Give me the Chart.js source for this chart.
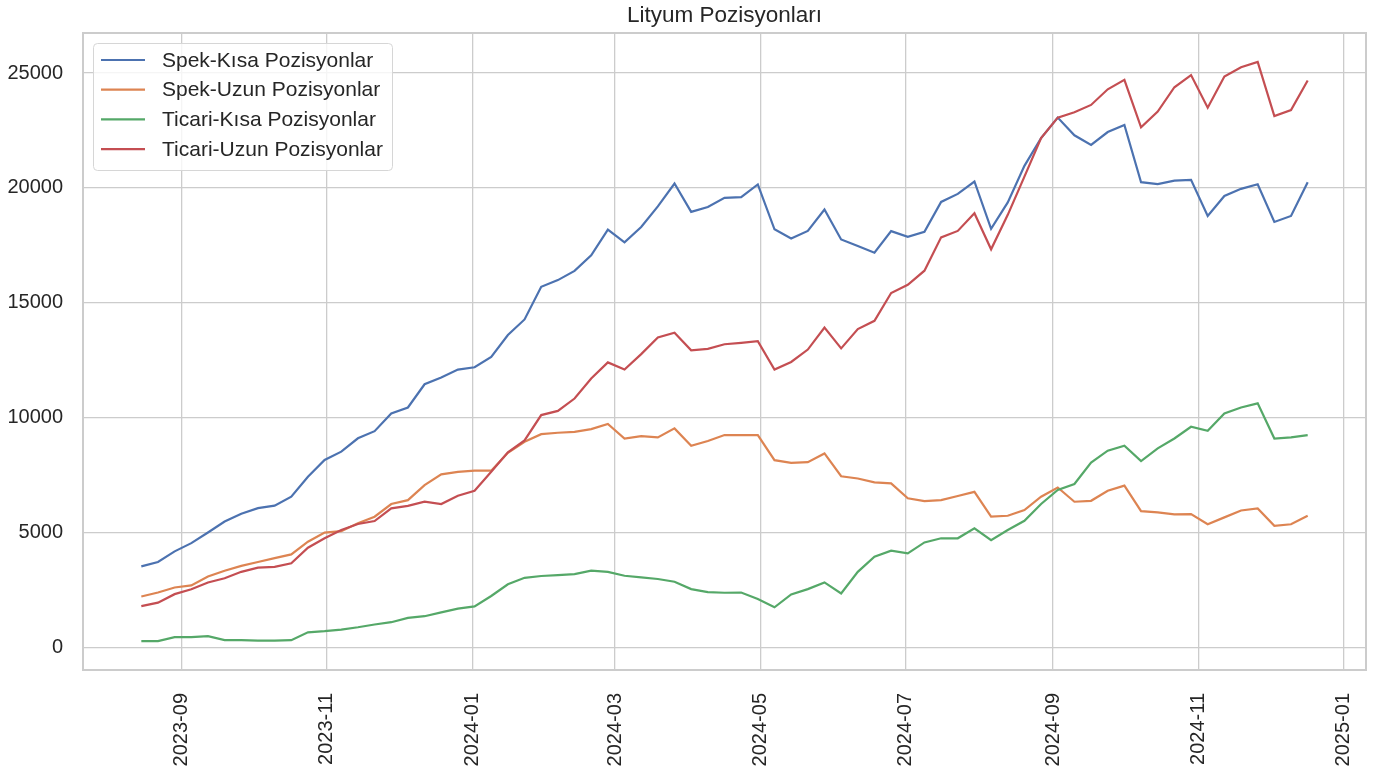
<!DOCTYPE html>
<html>
<head>
<meta charset="utf-8">
<script src="https://cdn.jsdelivr.net/npm/chart.js@4.4.1/dist/chart.umd.min.js"></script>
<style>
html,body{margin:0;padding:0;background:#ffffff;}
#wrap{width:1376px;height:776px;position:relative;}
</style>
</head>
<body>
<div id="wrap"><canvas id="c" width="1376" height="776"></canvas></div>
<script>
// ---- data (weekly report dates) ----
const dates = [
  '2023-08-15','2023-08-22','2023-08-29','2023-09-05','2023-09-12','2023-09-19','2023-09-26',
  '2023-10-03','2023-10-10','2023-10-17','2023-10-24','2023-10-31','2023-11-07','2023-11-14',
  '2023-11-21','2023-11-28','2023-12-05','2023-12-12','2023-12-19','2023-12-26','2024-01-02',
  '2024-01-09','2024-01-16','2024-01-23','2024-01-30','2024-02-06','2024-02-13','2024-02-20',
  '2024-02-27','2024-03-05','2024-03-12','2024-03-19','2024-03-26','2024-04-02','2024-04-09',
  '2024-04-16','2024-04-23','2024-04-30','2024-05-07','2024-05-14','2024-05-21','2024-05-28',
  '2024-06-04','2024-06-11','2024-06-18','2024-06-25','2024-07-02','2024-07-09','2024-07-16',
  '2024-07-23','2024-07-30','2024-08-06','2024-08-13','2024-08-20','2024-08-27','2024-09-03',
  '2024-09-10','2024-09-17','2024-09-24','2024-10-01','2024-10-08','2024-10-15','2024-10-22',
  '2024-10-29','2024-11-05','2024-11-12','2024-11-19','2024-11-26','2024-12-03','2024-12-10',
  '2024-12-17'
];
const spekKisa = [
  3540,3730,4190,4550,5010,5490,5830,6070,6180,6570,7440,8170,8530,9110,9420,10190,10450,11460,
  11750,12100,12200,12650,13600,14280,15700,15990,16390,17070,18190,17630,18300,19200,20190,18960,
  19170,19570,19600,20150,18200,17800,18130,19060,17760,17470,17180,18120,17870,18090,19390,19740,
  20280,18220,19370,20960,22170,23060,22290,21870,22430,22740,20250,20170,20320,20350,18780,19650,
  19960,20160,18520,18780,20250
];
const spekUzun = [
  2230,2400,2620,2710,3100,3350,3560,3730,3900,4060,4610,5010,5070,5410,5700,6250,6420,7070,
  7540,7650,7700,7700,8480,8960,9290,9350,9390,9510,9730,9100,9200,9150,9540,8780,8990,9250,
  9250,9250,8160,8040,8070,8450,7460,7360,7190,7150,6500,6380,6420,6600,6780,5700,5740,5990,
  6570,6970,6350,6390,6830,7050,5940,5890,5800,5810,5370,5670,5970,6060,5300,5370,5740
];
const ticariKisa = [
  290,290,460,460,500,330,330,310,310,330,670,720,790,890,1010,1110,1300,1370,1540,1700,1800,
  2250,2760,3040,3120,3160,3200,3350,3300,3130,3060,2990,2870,2550,2420,2390,2400,2120,1760,
  2320,2550,2840,2360,3300,3960,4220,4100,4580,4760,4760,5190,4680,5120,5520,6250,6860,7120,
  8050,8570,8790,8120,8670,9100,9610,9440,10190,10450,10630,9100,9150,9250
];
const ticariUzun = [
  1810,1960,2330,2540,2840,3020,3300,3480,3520,3670,4350,4760,5120,5380,5510,6060,6170,6350,
  6250,6610,6830,7650,8500,9020,10120,10300,10840,11710,12410,12100,12770,13500,13700,12940,
  13000,13200,13260,13330,12100,12430,12970,13930,13020,13860,14220,15430,15790,16400,17850,
  18130,18900,17330,18830,20490,22170,23060,23290,23610,24290,24700,22640,23320,24380,24910,
  23490,24850,25250,25480,23130,23390,24670
];
const seriesNames = ['Spek-Kısa Pozisyonlar','Spek-Uzun Pozisyonlar','Ticari-Kısa Pozisyonlar','Ticari-Uzun Pozisyonlar'];
const xTickLabels = ['2023-09','2023-11','2024-01','2024-03','2024-05','2024-07','2024-09','2024-11','2025-01'];
const yTicks = [0,5000,10000,15000,20000,25000];
const chartTitle = 'Lityum Pozisyonları';

// ---- helpers ----
const DAY = 86400000;
const toDay = s => Date.parse(s + (s.length === 7 ? '-01' : '') + 'T00:00:00Z') / DAY;
const xs = dates.map(toDay);
const xTickVals = xTickLabels.map(toDay);
const labelOf = {};
xTickLabels.forEach((l, i) => { labelOf[xTickVals[i]] = l; });

const allSeries = [spekKisa, spekUzun, ticariKisa, ticariUzun];
const colors = ['#4c72b0', '#dd8452', '#55a868', '#c44e52'];
const xmin0 = Math.min(...xs), xmax0 = Math.max(...xs);
const xpad = (xmax0 - xmin0) * 0.05;
const allY = allSeries.flat();
const ymin0 = Math.min(...allY), ymax0 = Math.max(...allY);
const ypad = (ymax0 - ymin0) * 0.05;

const FONT = '"Liberation Sans", Arial, sans-serif';
const TXT = '#262626';
const GRID = '#cccccc';

const frame = {
  id: 'frame',
  afterDatasetsDraw(chart) {
    const a = chart.chartArea, ctx = chart.ctx;
    ctx.save();
    ctx.strokeStyle = GRID;
    ctx.lineWidth = 2;
    ctx.strokeRect(a.left, a.top, a.right - a.left, a.bottom - a.top);
    ctx.restore();
  }
};

const boxLegend = {
  id: 'boxLegend',
  afterDraw(chart) {
    const ctx = chart.ctx, a = chart.chartArea;
    const x0 = a.left + 10, y0 = a.top + 10, w = 299, h = 127;
    ctx.save();
    ctx.beginPath();
    if (ctx.roundRect) ctx.roundRect(x0 + 0.5, y0 + 0.5, w, h, 4); else ctx.rect(x0 + 0.5, y0 + 0.5, w, h);
    ctx.fillStyle = 'rgba(255,255,255,0.8)';
    ctx.fill();
    ctx.strokeStyle = '#d6d6d6';
    ctx.lineWidth = 1;
    ctx.stroke();
    ctx.font = '21px ' + FONT;
    ctx.textBaseline = 'middle';
    ctx.textAlign = 'left';
    chart.data.datasets.forEach((ds, i) => {
      const cy = y0 + 17 + i * 29.7;
      ctx.strokeStyle = ds.borderColor;
      ctx.lineWidth = 2.2;
      ctx.beginPath();
      ctx.moveTo(x0 + 8, cy);
      ctx.lineTo(x0 + 52, cy);
      ctx.stroke();
      ctx.fillStyle = TXT;
      ctx.fillText(ds.label, x0 + 69, cy + 1);
    });
    ctx.restore();
  }
};

new Chart(document.getElementById('c'), {
  type: 'line',
  data: {
    datasets: allSeries.map((s, i) => ({
      label: seriesNames[i],
      data: s.map((v, j) => ({ x: xs[j], y: v })),
      borderColor: colors[i],
      backgroundColor: colors[i],
      borderWidth: 2.2,
      pointRadius: 0,
      pointHoverRadius: 0,
      tension: 0,
      fill: false,
      order: 4 - i
    }))
  },
  options: {
    responsive: false,
    animation: false,
    devicePixelRatio: 1,
    layout: { padding: { left: 0, right: 10, top: 0, bottom: 0 } },
    plugins: {
      legend: { display: false },
      tooltip: { enabled: false },
      title: {
        display: true,
        fullSize: false,
        text: chartTitle,
        color: TXT,
        font: { family: FONT, size: 22.5, weight: 'normal' },
        padding: { top: 2, bottom: 4 }
      }
    },
    scales: {
      x: {
        type: 'linear',
        min: xmin0 - xpad,
        max: xmax0 + xpad,
        afterBuildTicks: s => { s.ticks = xTickVals.map(v => ({ value: v })); },
        afterFit: s => { s.height = 106; s.paddingLeft = 0; s.paddingRight = 0; },
        grid: { color: GRID, lineWidth: 1.3, drawTicks: false },
        border: { display: false },
        ticks: {
          autoSkip: false,
          minRotation: 90,
          maxRotation: 90,
          padding: 23,
          color: TXT,
          font: { family: FONT, size: 20 },
          callback: v => labelOf[v] || ''
        }
      },
      y: {
        type: 'linear',
        min: ymin0 - ypad,
        max: ymax0 + ypad,
        afterBuildTicks: s => { s.ticks = yTicks.map(v => ({ value: v })); },
        afterFit: s => { s.width = 83; s.paddingTop = 0; s.paddingBottom = 0; },
        grid: { color: GRID, lineWidth: 1.3, drawTicks: false },
        border: { display: false },
        ticks: {
          padding: 20,
          color: TXT,
          font: { family: FONT, size: 20 },
          callback: v => String(v)
        }
      }
    }
  },
  plugins: [frame, boxLegend]
});
</script>
</body>
</html>
